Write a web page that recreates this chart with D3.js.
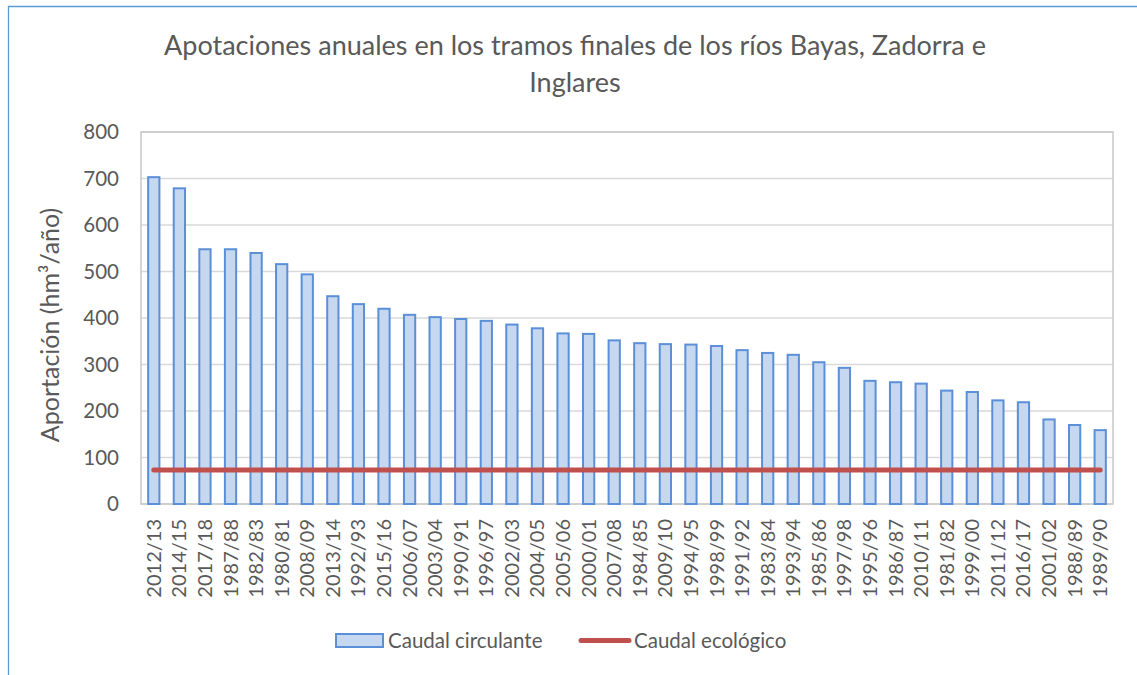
<!DOCTYPE html>
<html>
<head>
<meta charset="utf-8">
<script src="https://cdn.jsdelivr.net/npm/d3@7"></script>
<style>
  html, body { margin: 0; padding: 0; background: #ffffff; }
  svg { display: block; font-family: Lato, "Open Sans", sans-serif; }
</style>
</head>
<body>
<svg id="chart" width="1137" height="675"></svg>
<script>
// Hydrological years, ordered from wettest to driest
const categories = [
  "2012/13", "2014/15", "2017/18", "1987/88", "1982/83", "1980/81", "2008/09",
  "2013/14", "1992/93", "2015/16", "2006/07", "2003/04", "1990/91", "1996/97",
  "2002/03", "2004/05", "2005/06", "2000/01", "2007/08", "1984/85", "2009/10",
  "1994/95", "1998/99", "1991/92", "1983/84", "1993/94", "1985/86", "1997/98",
  "1995/96", "1986/87", "2010/11", "1981/82", "1999/00", "2011/12", "2016/17",
  "2001/02", "1988/89", "1989/90"
];

// Annual flow (hm3/year)
const caudalCirculante = [
  705, 681, 550, 550, 542, 518, 496,
  449, 432, 422, 409, 404, 400, 396,
  388, 380, 369, 368, 354, 348, 346,
  345, 342, 333, 327, 323, 307, 295,
  267, 264, 261, 246, 243, 225, 221,
  184, 172, 161
];

// Environmental flow (hm3/year)
const caudalEcologico = [
  73, 73, 73, 73, 73, 73, 73,
  73, 73, 73, 73, 73, 73, 73,
  73, 73, 73, 73, 73, 73, 73,
  73, 73, 73, 73, 73, 73, 73,
  73, 73, 73, 73, 73, 73, 73,
  73, 73, 73
];

const yTicks = [0, 100, 200, 300, 400, 500, 600, 700, 800];

const titleLines = [
  "Apotaciones anuales en los tramos finales de los ríos Bayas, Zadorra e",
  "Inglares"
];
const yTitle = "Aportación (hm³/año)";
const seriesNames = ["Caudal circulante", "Caudal ecológico"];

const W = 1137, H = 675;
const plot = { left: 141, right: 1113, top: 132, bottom: 504 };

const textColor = "#595959";
const barFill = "#C6D8F0";
const barStroke = "#5B8FD8";
const lineColor = "#C0504D";
const gridColor = "#D9D9D9";
const frameColor = "#5B9BD5";

const svg = d3.select("#chart");

// Outer chart frame (top and left edges)
svg.append("path")
  .attr("d", `M8.5,${H} L8.5,6.5 L${W},6.5`)
  .attr("fill", "none")
  .attr("stroke", frameColor)
  .attr("stroke-width", 1.3);

const x = d3.scaleBand()
  .domain(categories)
  .range([plot.left, plot.right])
  .paddingInner(0.56)
  .paddingOuter(0.28);

const xPoint = d3.scalePoint()
  .domain(categories)
  .range([plot.left, plot.right])
  .padding(0.5);

const y = d3.scaleLinear()
  .domain([0, 800])
  .range([plot.bottom, plot.top]);

// Horizontal gridlines
svg.append("g")
  .selectAll("line")
  .data(yTicks)
  .join("line")
  .attr("x1", plot.left)
  .attr("x2", plot.right)
  .attr("y1", d => y(d))
  .attr("y2", d => y(d))
  .attr("stroke", gridColor)
  .attr("stroke-width", 1.5);

// Plot area border
svg.append("rect")
  .attr("x", plot.left)
  .attr("y", plot.top)
  .attr("width", plot.right - plot.left)
  .attr("height", plot.bottom - plot.top)
  .attr("fill", "none")
  .attr("stroke", "#C8C8C8")
  .attr("stroke-width", 1.5);

// Bars
svg.append("g")
  .selectAll("rect")
  .data(categories.map((c, i) => ({ c, v: caudalCirculante[i] })))
  .join("rect")
  .attr("x", d => x(d.c))
  .attr("y", d => y(d.v) + 1)
  .attr("width", x.bandwidth())
  .attr("height", d => y(0) - y(d.v) - 1)
  .attr("fill", barFill)
  .attr("stroke", barStroke)
  .attr("stroke-width", 2);

// Environmental flow line
const line = d3.line()
  .x((d, i) => xPoint(categories[i]))
  .y(d => y(d));

svg.append("path")
  .datum(caudalEcologico)
  .attr("d", line)
  .attr("fill", "none")
  .attr("stroke", lineColor)
  .attr("stroke-width", 5)
  .attr("stroke-linecap", "round");

// Y axis
const yAxis = d3.axisLeft(y)
  .tickValues(yTicks)
  .tickSize(0)
  .tickPadding(22);

const gy = svg.append("g")
  .attr("transform", `translate(${plot.left},0)`)
  .call(yAxis);
gy.select(".domain").remove();
gy.selectAll("text")
  .attr("fill", textColor)
  .style("font-size", "20.5px")
  .style("font-family", "Lato, sans-serif");

// X axis with vertical labels
const xAxis = d3.axisBottom(x).tickSize(0).tickPadding(0);
const gx = svg.append("g")
  .attr("transform", `translate(0,${plot.bottom})`)
  .call(xAxis);
gx.select(".domain").remove();
gx.selectAll("text")
  .attr("fill", textColor)
  .style("font-size", "20px")
  .style("font-family", "Lato, sans-serif")
  .attr("text-anchor", "end")
  .attr("dy", "0.35em")
  .attr("transform", "translate(0,15) rotate(-90)")
  .attr("x", 0)
  .attr("y", 0);

// Title
svg.append("text")
  .attr("x", 575)
  .attr("y", 55)
  .attr("text-anchor", "middle")
  .attr("fill", textColor)
  .style("font-size", "27px")
  .selectAll("tspan")
  .data(titleLines)
  .join("tspan")
  .attr("x", 575)
  .attr("dy", (d, i) => i === 0 ? 0 : 37)
  .text(d => d);

// Y axis title
svg.append("text")
  .attr("transform", `translate(59,${(plot.top + plot.bottom) / 2 + 7}) rotate(-90)`)
  .attr("text-anchor", "middle")
  .attr("fill", textColor)
  .style("font-size", "25px")
  .text(yTitle);

// Legend
const legend = svg.append("g");
legend.append("rect")
  .attr("x", 336)
  .attr("y", 634)
  .attr("width", 47)
  .attr("height", 13)
  .attr("fill", barFill)
  .attr("stroke", barStroke)
  .attr("stroke-width", 2);
legend.append("text")
  .attr("x", 388)
  .attr("y", 648)
  .attr("fill", textColor)
  .style("font-size", "20.5px")
  .text(seriesNames[0]);
legend.append("line")
  .attr("x1", 581)
  .attr("x2", 629)
  .attr("y1", 640.5)
  .attr("y2", 640.5)
  .attr("stroke", lineColor)
  .attr("stroke-width", 5)
  .attr("stroke-linecap", "round");
legend.append("text")
  .attr("x", 634)
  .attr("y", 648)
  .attr("fill", textColor)
  .style("font-size", "20.5px")
  .text(seriesNames[1]);
</script>
</body>
</html>
